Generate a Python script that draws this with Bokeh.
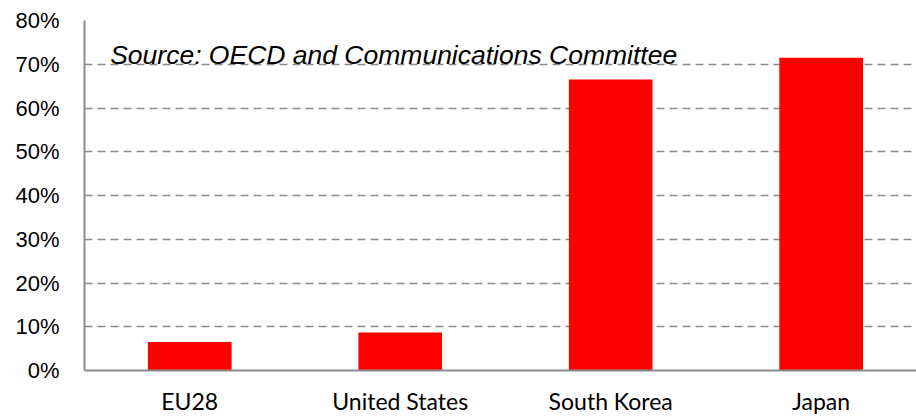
from bokeh.plotting import figure
from bokeh.models import Range1d, FixedTicker, NumeralTickFormatter, Label, ColumnDataSource
from bokeh.embed import file_html
from bokeh.resources import INLINE

categories = ["EU28", "United States", "South Korea", "Japan"]
values = [0.065, 0.087, 0.665, 0.715]
y_ticks = [0.0, 0.1, 0.2, 0.3, 0.4, 0.5, 0.6, 0.7, 0.8]
source_note = "Source: OECD and Communications Committee"

xs = [i + 0.5 for i in range(len(categories))]
src = ColumnDataSource(dict(x=xs, top=values))

p = figure(width=916, height=417, output_backend="svg", toolbar_location=None,
           x_range=Range1d(0, 3.953), y_range=Range1d(0, 0.8),
           min_border_left=84, min_border_right=0, min_border_top=20, min_border_bottom=46)
p.outline_line_color = None
p.background_fill_color = "white"

p.vbar(x="x", top="top", width=0.3975, bottom=0, source=src,
       fill_color="#FF0000", line_color=None)

# y axis
p.yaxis.ticker = FixedTicker(ticks=y_ticks)
p.yaxis.formatter = NumeralTickFormatter(format="0%")
p.yaxis.major_tick_line_color = None
p.yaxis.minor_tick_line_color = None
p.yaxis.major_tick_out = 0
p.yaxis.major_tick_in = 0
p.yaxis.major_label_standoff = 25
p.yaxis.major_label_text_font = "Liberation Sans"
p.yaxis.major_label_text_font_size = "22px"
p.yaxis.major_label_text_color = "black"
p.yaxis.axis_line_color = "#8c8c8c"
p.yaxis.axis_line_width = 2

# x axis
p.xaxis.ticker = FixedTicker(ticks=xs)
p.xaxis.major_label_overrides = {x: c for x, c in zip(xs, categories)}
p.xaxis.major_tick_line_color = None
p.xaxis.minor_tick_line_color = None
p.xaxis.major_tick_out = 0
p.xaxis.major_tick_in = 0
p.xaxis.major_label_standoff = 16
p.xaxis.major_label_text_font = "Lato"
p.xaxis.major_label_text_font_size = "23px"
p.xaxis.major_label_text_color = "black"
p.xaxis.axis_line_color = "#8c8c8c"
p.xaxis.axis_line_width = 2

p.xgrid.grid_line_color = None
p.ygrid.grid_line_color = "#8c8c8c"
p.ygrid.grid_line_width = 1.5
p.ygrid.grid_line_dash = "8 5"

note = Label(x=0.122, y=0.722, text=source_note, text_font="Liberation Sans",
             text_font_style="italic", text_font_size="26.5px", text_color="black",
             text_baseline="alphabetic", text_align="left")
p.add_layout(note)

open("out.html", "w").write(file_html(p, INLINE))
